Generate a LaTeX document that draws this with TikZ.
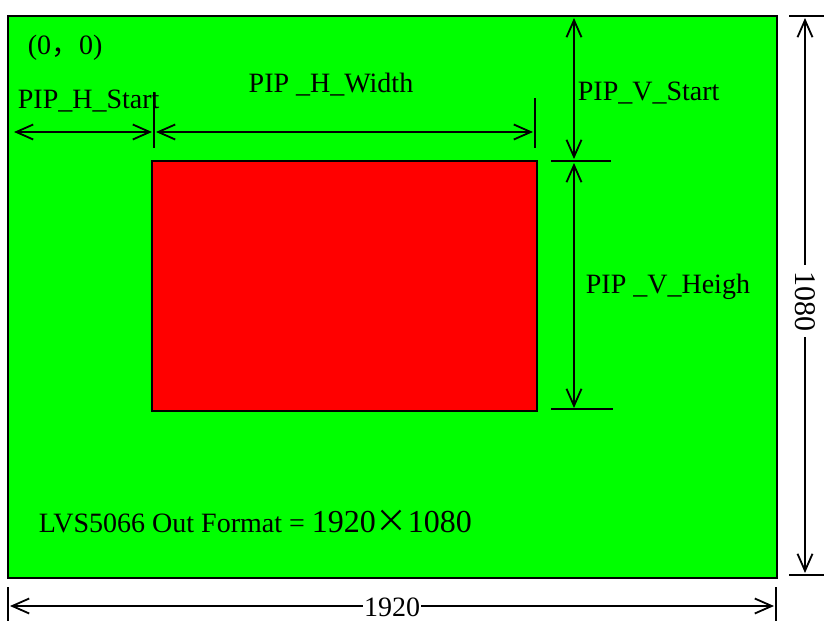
\documentclass[tikz,border=0pt]{standalone}
\usepackage{fontspec}
\setmainfont{Liberation Serif}
\newfontfamily\cjk{Noto Sans CJK SC}
\usetikzlibrary{arrows.meta}
\definecolor{screengreen}{RGB}{0,255,0}
\begin{document}
\begin{tikzpicture}[x=1pt, y=-1pt, line width=1.8pt,
	dim/.style = {{Straight Barb[length=17pt,width=15pt]}-{Straight Barb[length=17pt,width=15pt]}},
	lbl/.style = {font=\fontsize{28}{32}\selectfont, inner sep=0pt}]
	\useasboundingbox (0,0) rectangle (824,621);
	% screen and picture-in-picture window
	\draw[fill=screengreen, line width=2pt] (8,16) rectangle (777,578);
	\draw[fill=red] (152,161) rectangle (537,411);
	% arrow ends
	\coordinate (hs1) at (14,132);
	\coordinate (hs2) at (152,132);
	\coordinate (hw1) at (156,132);
	\coordinate (hw2) at (533,132);
	\coordinate (vs1) at (574,18);
	\coordinate (vs2) at (574,159);
	\coordinate (vh1) at (574,163);
	\coordinate (vh2) at (574,408);
	\coordinate (fv1) at (805,18);
	\coordinate (fv2) at (805,573);
	\coordinate (fh1) at (10,606);
	\coordinate (fh2) at (774,606);
	% tick marks
	\draw (154,92) -- (154,148);
	\draw (535,98) -- (535,148);
	\draw (551,161) -- (611,161);
	\draw (551,409) -- (613,409);
	\draw (789,16) -- (824,16);
	\draw (789,575) -- (824,575);
	\draw (8,587) -- (8,621);
	\draw (776,587) -- (776,621);
	% dimension arrows
	\draw[dim] (fv1) -- node[lbl, font=\fontsize{30}{34}\selectfont, fill=white, rotate=-90, inner xsep=6pt, pos=0.51] (tv) {1080} (fv2);
	\draw[dim] (fh1) -- node[lbl, fill=white, inner xsep=1pt, yshift=-1pt] (th) {1920} (fh2);
	\draw[dim] (hs1) -- (hs2);
	\draw[dim] (hw1) -- (hw2);
	\draw[dim] (vs1) -- (vs2);
	\draw[dim] (vh1) -- (vh2);
	% labels
	\node[lbl, anchor=base west] (origin) at (27,54) {(0{\cjk ，}0)};
	\node[lbl, anchor=base west] (lhs) at (17,108) {PIP\_H\_Start};
	\node[lbl, anchor=base] (lhw) at (331,92) {PIP \_H\_Width};
	\node[lbl, anchor=base west] (lvs) at (577,100) {PIP\_V\_Start};
	\node[lbl, anchor=base west] (lvh) at (585,293) {PIP \_V\_Heigh};
	\node[lbl, anchor=base west] (fmt) at (38,532) {LVS5066 Out Format = {\fontsize{32}{36}\selectfont 1920{\cjk ×}1080}};
\end{tikzpicture}
\end{document}
